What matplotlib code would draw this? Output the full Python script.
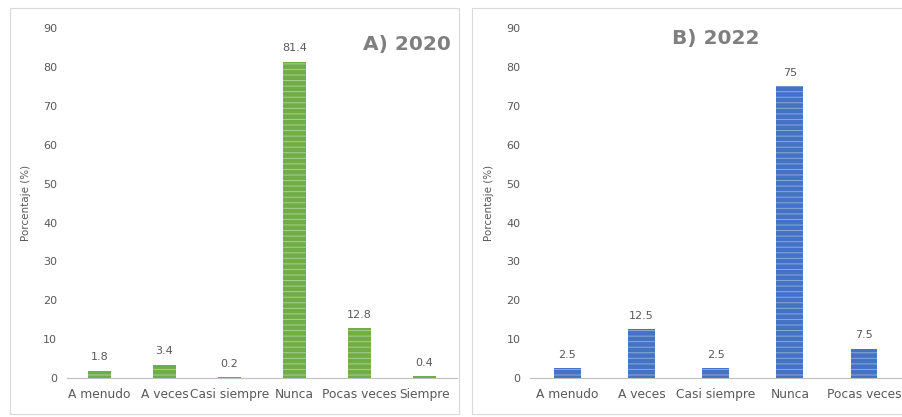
import matplotlib.pyplot as plt
from matplotlib.patches import Rectangle

# ----- Data -----
cats_2020 = ["A menudo", "A veces", "Casi siempre", "Nunca", "Pocas veces", "Siempre"]
vals_2020 = [1.8, 3.4, 0.2, 81.4, 12.8, 0.4]

cats_2022 = ["A menudo", "A veces", "Casi siempre", "Nunca", "Pocas veces"]
vals_2022 = [2.5, 12.5, 2.5, 75, 7.5]

yticks = [0, 10, 20, 30, 40, 50, 60, 70, 80, 90]

GRAY = "#595959"
plt.rcParams["hatch.linewidth"] = 0.7

fig = plt.figure(figsize=(9.03, 4.17), dpi=100)

# Panel borders
for x0, w in [(0.011, 0.497), (0.523, 0.48)]:
    fig.patches.append(Rectangle((x0, 0.006), w, 0.975, transform=fig.transFigure,
                                 fill=False, edgecolor="#d9d9d9", linewidth=0.8))


def draw_panel(ax, cats, vals, color, hatch_color, title, title_xy, title_ha):
    x = range(len(cats))
    bars = ax.bar(x, vals, width=0.36, color=color, edgecolor=hatch_color,
                  hatch="---", linewidth=0)
    for b, v in zip(bars, vals):
        ax.text(b.get_x() + b.get_width() / 2, v + 2.2, f"{v:g}",
                ha="center", va="bottom", fontsize=8, color=GRAY)
    ax.set_xlim(-0.5, len(cats) - 0.5)
    ax.set_ylim(0, 90)
    ax.set_yticks(yticks)
    ax.set_xticks(list(x))
    ax.set_xticklabels(cats)
    ax.tick_params(axis="both", length=0, labelsize=8, labelcolor=GRAY, pad=7)
    ax.tick_params(axis="x", labelsize=8.8)
    for s in ["top", "right", "left"]:
        ax.spines[s].set_visible(False)
    ax.spines["bottom"].set_color("#bfbfbf")
    ax.set_ylabel("Porcentaje (%)", fontsize=7.5, color=GRAY, labelpad=9)
    ax.text(title_xy[0], title_xy[1], title, transform=ax.transAxes,
            ha=title_ha, va="center", fontsize=14.5, fontweight="bold", color="#7f7f7f")


ax1 = fig.add_axes([0.0742, 0.0935, 0.432, 0.839])
draw_panel(ax1, cats_2020, vals_2020, "#70ad47", "#a9d18e", "A) 2020", (0.985, 0.953), "right")

ax2 = fig.add_axes([0.587, 0.0935, 0.411, 0.839])
draw_panel(ax2, cats_2022, vals_2022, "#4472c4", "#8faadc", "B) 2022", (0.5, 0.97), "center")

fig.savefig("out.png", dpi=100)
